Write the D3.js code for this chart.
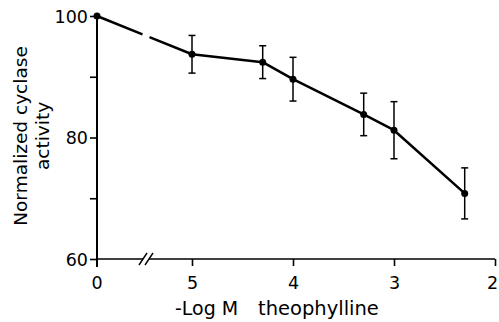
<!DOCTYPE html>
<html>
<head>
<meta charset="utf-8">
<script src="https://cdn.jsdelivr.net/npm/d3@7"></script>
<style>
  body { margin: 0; background: #fff; }
  svg { display: block; }
  text { font-family: "DejaVu Sans", sans-serif; fill: #000; }
</style>
</head>
<body>
<svg width="499" height="322"></svg>
<script>
// -log M theophylline (0 = no theophylline, control)
const logConc  = [0, 5, 4.3, 4, 3.3, 3, 2.3];
const activity = [100, 93.7, 92.4, 89.6, 83.8, 81.2, 70.8];
const errBar   = [0, 3.1, 2.7, 3.6, 3.5, 4.7, 4.2];

const xTicks = [5, 4, 3, 2];
const yTicks = [60, 70, 80, 90, 100];
const yLabeled = [60, 80, 100];

const width = 499, height = 322;
const svg = d3.select("svg");

// x is a broken axis: control point at the origin, then a log scale from 5 to 2
const xCtrl = 97;
const breakX = 146;
const xLog = d3.scaleLinear().domain([5, 2]).range([192, 495]);
const y = d3.scaleLinear().domain([60, 100]).range([259, 16]);

function xPos(v) { return v === 0 ? xCtrl : xLog(v); }

const pts = logConc.map(function(d, i) {
    return {x: xPos(d), y: y(activity[i]), lo: y(activity[i] - errBar[i]), hi: y(activity[i] + errBar[i]), e: errBar[i]};
});

// y axis
const yAxis = d3.axisLeft(y)
    .tickValues(yTicks)
    .tickSize(7)
    .tickPadding(2)
    .tickFormat(function(d) { return yLabeled.includes(d) ? d : ""; });

const gy = svg.append("g")
    .attr("transform", "translate(" + xCtrl + ",0)")
    .call(yAxis);
gy.select(".domain").remove();
gy.selectAll(".tick line").attr("stroke", "#000").attr("stroke-width", 1.6);
gy.selectAll(".tick text").style("font-size", "17.5px").attr("dy", "0.36em");

// vertical axis line (runs a bit below the x axis, making the 0 tick)
svg.append("line")
    .attr("x1", xCtrl).attr("x2", xCtrl)
    .attr("y1", y(100)).attr("y2", y(60) + 8)
    .attr("stroke", "#000").attr("stroke-width", 2);

// x axis
const xAxis = d3.axisBottom(xLog)
    .tickValues(xTicks)
    .tickSize(7)
    .tickPadding(11)
    .tickFormat(d3.format("d"));

const gx = svg.append("g")
    .attr("transform", "translate(0," + y(60) + ")")
    .call(xAxis);
gx.select(".domain").remove();
gx.selectAll(".tick line").attr("stroke", "#000").attr("stroke-width", 1.6);
gx.selectAll(".tick text")
    .style("font-size", "17.5px")
    .attr("dx", function(d) { return d === 2 ? -3 : 0; });

svg.append("text")
    .attr("x", xCtrl).attr("y", y(60) + 18)
    .attr("dy", "0.71em")
    .attr("text-anchor", "middle")
    .style("font-size", "17.5px")
    .text("0");

// horizontal axis with break
const axisY = y(60);
svg.append("line")
    .attr("x1", xCtrl).attr("x2", breakX - 3)
    .attr("y1", axisY).attr("y2", axisY)
    .attr("stroke", "#000").attr("stroke-width", 1.6);
svg.append("line")
    .attr("x1", breakX + 3).attr("x2", xLog(2))
    .attr("y1", axisY).attr("y2", axisY)
    .attr("stroke", "#000").attr("stroke-width", 1.6);
[-3, 3].forEach(function(off) {
    svg.append("line")
        .attr("x1", breakX + off - 4).attr("y1", axisY + 6)
        .attr("x2", breakX + off + 4).attr("y2", axisY - 6)
        .attr("stroke", "#000").attr("stroke-width", 1.4);
});

// axis titles
svg.append("text")
    .attr("x", 175).attr("y", 315)
    .style("font-size", "19px")
    .text("-Log M");
svg.append("text")
    .attr("x", 258).attr("y", 315)
    .style("font-size", "19.5px")
    .text("theophylline");

const yTitle = svg.append("text")
    .attr("transform", "translate(27,136) rotate(-90)")
    .attr("text-anchor", "middle")
    .style("font-size", "18.5px");
yTitle.append("tspan").attr("x", 0).attr("dy", 0).text("Normalized cyclase");
yTitle.append("tspan").attr("x", 0).attr("dy", 22).text("activity");

// first segment (control -> first dose) is broken where the axis breaks
const p0 = pts[0], p1 = pts[1];
function interp(px) {
    const t = (px - p0.x) / (p1.x - p0.x);
    return [px, p0.y + t * (p1.y - p0.y)];
}
const g1 = interp(breakX - 3.5), g2 = interp(breakX + 3.5);
svg.append("line")
    .attr("x1", p0.x).attr("y1", p0.y).attr("x2", g1[0]).attr("y2", g1[1])
    .attr("stroke", "#000").attr("stroke-width", 2.5);
svg.append("line")
    .attr("x1", g2[0]).attr("y1", g2[1]).attr("x2", p1.x).attr("y2", p1.y)
    .attr("stroke", "#000").attr("stroke-width", 2.5);

// rest of the curve
const line = d3.line().x(function(d) { return d.x; }).y(function(d) { return d.y; });
svg.append("path")
    .datum(pts.slice(1))
    .attr("d", line)
    .attr("fill", "none")
    .attr("stroke", "#000")
    .attr("stroke-width", 2.5)
    .attr("stroke-linejoin", "round");

// error bars
const eb = svg.append("g")
    .selectAll("g")
    .data(pts.filter(function(d) { return d.e > 0; }))
    .enter()
    .append("g");
eb.append("line")
    .attr("x1", function(d) { return d.x; }).attr("x2", function(d) { return d.x; })
    .attr("y1", function(d) { return d.lo; }).attr("y2", function(d) { return d.hi; })
    .attr("stroke", "#000").attr("stroke-width", 1.5);
eb.append("line")
    .attr("x1", function(d) { return d.x - 3.5; }).attr("x2", function(d) { return d.x + 3.5; })
    .attr("y1", function(d) { return d.hi; }).attr("y2", function(d) { return d.hi; })
    .attr("stroke", "#000").attr("stroke-width", 1.5);
eb.append("line")
    .attr("x1", function(d) { return d.x - 3.5; }).attr("x2", function(d) { return d.x + 3.5; })
    .attr("y1", function(d) { return d.lo; }).attr("y2", function(d) { return d.lo; })
    .attr("stroke", "#000").attr("stroke-width", 1.5);

// points
svg.append("g")
    .selectAll("circle")
    .data(pts)
    .enter()
    .append("circle")
    .attr("cx", function(d) { return d.x; })
    .attr("cy", function(d) { return d.y; })
    .attr("r", 3.5)
    .attr("fill", "#000");
</script>
</body>
</html>
